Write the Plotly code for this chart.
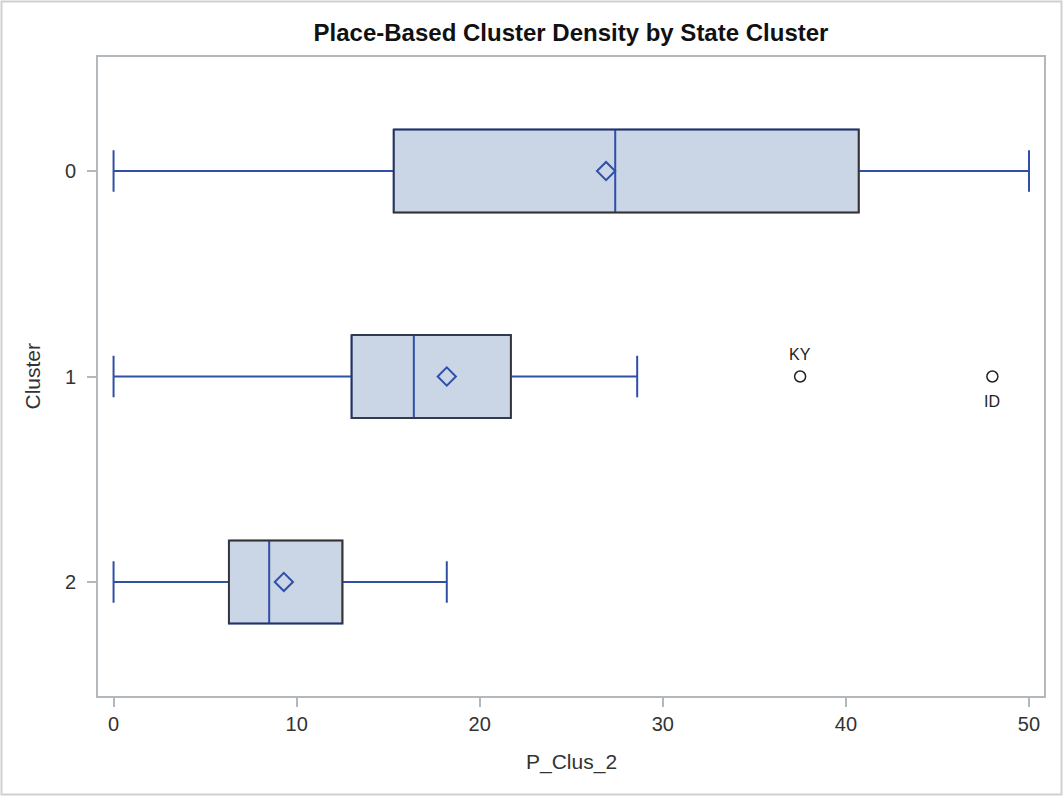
import plotly.graph_objects as go

# Summary statistics of P_Clus_2 for each state cluster
clusters = [0, 1, 2]
q1 = [15.3, 13.0, 6.3]
median = [27.4, 16.4, 8.5]
q3 = [40.7, 21.7, 12.5]
low_whisker = [0.0, 0.0, 0.0]
high_whisker = [50.0, 28.6, 18.2]
means = [26.9, 18.2, 9.3]

# Outlying states
outlier_cluster = [1, 1]
outlier_value = [37.5, 48.0]
outlier_label = ["KY", "ID"]
outlier_label_shift = [22, -25]

x_ticks = [0, 10, 20, 30, 40, 50]

BOX_W = 0.404
FILL = "#CAD5E5"
BLUE = "#3050A8"
EDGE = "#333333"
FRAME = "#B2B8BC"
FONT = "Liberation Sans, Arial, sans-serif"

fig = go.Figure()

for i, c in enumerate(clusters):
    fig.add_trace(go.Box(
        y=[c], q1=[q1[i]], median=[median[i]], q3=[q3[i]],
        lowerfence=[low_whisker[i]], upperfence=[high_whisker[i]],
        orientation="h", width=BOX_W, whiskerwidth=0.5,
        fillcolor=FILL, line=dict(color=BLUE, width=2),
        boxpoints=False, showlegend=False, hoverinfo="skip",
    ))

# Dark box outline drawn over the interquartile range
for i, c in enumerate(clusters):
    h = BOX_W / 2
    fig.add_trace(go.Scatter(
        x=[q1[i], q3[i], q3[i], q1[i], q1[i]],
        y=[c - h, c - h, c + h, c + h, c - h],
        mode="lines", line=dict(color=EDGE, width=1.6),
        showlegend=False, hoverinfo="skip",
    ))

# Means
fig.add_trace(go.Scatter(
    x=means, y=clusters, mode="markers",
    marker=dict(symbol="diamond-open", size=14, color=BLUE,
                line=dict(color=BLUE, width=2)),
    showlegend=False, hoverinfo="skip",
))

# Outliers
fig.add_trace(go.Scatter(
    x=outlier_value, y=outlier_cluster, mode="markers",
    marker=dict(symbol="circle-open", size=11, color="#222222",
                line=dict(color="#222222", width=1.5)),
    showlegend=False, hoverinfo="skip",
))

L, R, T, B = 98, 19, 57, 100
W, H = 1063, 796
pw, ph = W - L - R, H - T - B

annotations = [
    dict(x=v, y=c, xref="x", yref="y", text=t, showarrow=False,
         yshift=s, font=dict(family=FONT, size=16, color="#222222"))
    for v, c, t, s in zip(outlier_value, outlier_cluster,
                          outlier_label, outlier_label_shift)
]
annotations += [
    dict(text="P_Clus_2", xref="paper", yref="paper", x=0.5,
         y=-(762 - 696) / ph, xanchor="center", yanchor="middle",
         showarrow=False, font=dict(family=FONT, size=21, color="#333333")),
    dict(text="Cluster", xref="paper", yref="paper", x=-(L - 32) / pw,
         y=0.5, xanchor="center", yanchor="middle", textangle=-90,
         showarrow=False, font=dict(family=FONT, size=21, color="#333333")),
]

fig.update_layout(
    width=W, height=H,
    margin=dict(l=L, r=R, t=T, b=B),
    paper_bgcolor="white", plot_bgcolor="white",
    font=dict(family=FONT, color="#333333"),
    title=dict(text="<b>Place-Based Cluster Density by State Cluster</b>",
               x=0.5, xref="paper", xanchor="center",
               y=1 - 33 / H, yanchor="middle",
               font=dict(family=FONT, size=24, color="#111111")),
    xaxis=dict(
        range=[-0.85, 50.82], tickvals=x_ticks,
        ticks="outside", ticklen=9, tickcolor=FRAME, tickwidth=1.5,
        tickfont=dict(size=20, color="#333333"),
        showgrid=False, zeroline=False, automargin=False,
        showline=True, mirror=True, linecolor=FRAME, linewidth=2,
    ),
    yaxis=dict(
        range=[2.555, -0.555], tickvals=clusters,
        ticktext=[str(c) for c in clusters],
        ticks="outside", ticklen=9, tickcolor=FRAME, tickwidth=1.5,
        tickfont=dict(size=20, color="#333333"), ticklabelstandoff=7,
        showgrid=False, zeroline=False, automargin=False,
        showline=True, mirror=True, linecolor=FRAME, linewidth=2,
    ),
    annotations=annotations,
    shapes=[dict(
        type="rect", xref="paper", yref="paper",
        x0=-(L - 1.5) / pw, x1=1 + (R - 1.5) / pw,
        y0=-(B - 1.5) / ph, y1=1 + (T - 1.5) / ph,
        line=dict(color="#D0D0D0", width=2), layer="below",
    )],
)

fig.write_html("out.html")
